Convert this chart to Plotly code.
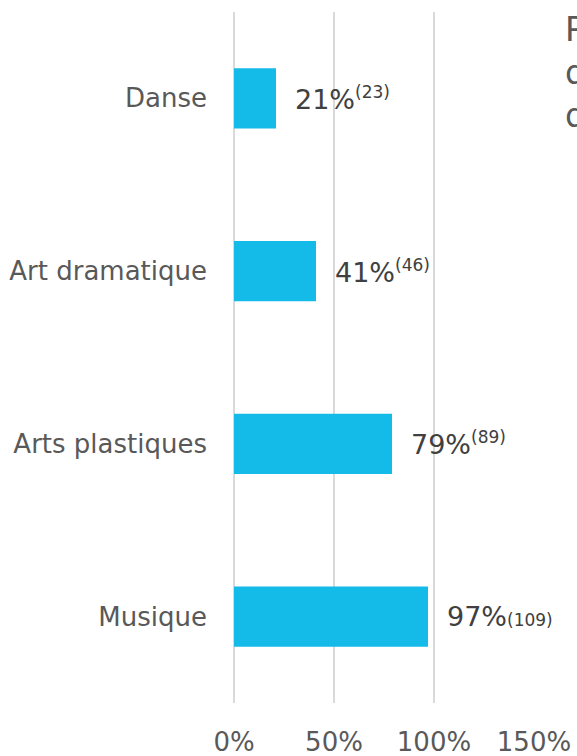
import plotly.graph_objects as go

categories = ["Danse", "Art dramatique", "Arts plastiques", "Musique"]
percent = [21, 41, 79, 97]
counts = [23, 46, 89, 109]
tick_vals = [0, 50, 100, 150]
tick_text = ["0%", "50%", "100%", "150%"]
title_text = "Proportion<br>des écoles<br>dispensant"

FONT = "DejaVu Sans"
BAR = "#14BAE8"
GRID = "#D9D9D9"
TXT = "#595959"

W, H = 577, 756
L, T, PW, PH = 234, 12, 300, 691

fig = go.Figure(go.Bar(
    x=percent, y=categories, orientation="h",
    marker=dict(color=BAR, line=dict(width=0)),
    width=0.35, hoverinfo="skip",
))

for i, (c, v, n) in enumerate(zip(categories, percent, counts)):
    if i < len(categories) - 1:
        txt = f"{v}%<sup><span style='font-size:17px'>({n})</span></sup>"
    else:
        txt = f"{v}%<span style='font-size:17px'>({n})</span>"
    fig.add_annotation(x=v, y=c, xref="x", yref="y", text=txt, showarrow=False,
                       xanchor="left", yanchor="middle", xshift=17,
                       font=dict(family=FONT, size=27, color="#404040"))

fig.add_annotation(x=(563 - L) / PW, y=1.0, xref="paper", yref="paper",
                   text=title_text, showarrow=False, xanchor="left", yanchor="top",
                   align="left", yshift=4,
                   font=dict(family=FONT, size=33, color=TXT))

fig.update_layout(
    template="none",
    width=W, height=H,
    margin=dict(l=L, r=W - L - PW, t=T, b=H - T - PH, autoexpand=False),
    paper_bgcolor="white", plot_bgcolor="white",
    showlegend=False,
    font=dict(family=FONT, size=26, color=TXT),
    xaxis=dict(range=[0, 150], tickvals=tick_vals, ticktext=tick_text, automargin=False,
               showgrid=True, gridcolor=GRID, gridwidth=1.5,
               zeroline=True, zerolinecolor=GRID, zerolinewidth=1.5,
               showline=False, ticks="", ticklabelstandoff=21,
               tickfont=dict(family=FONT, size=26, color=TXT), fixedrange=True),
    yaxis=dict(categoryorder="array", categoryarray=categories, automargin=False,
               autorange=False, range=[3.5, -0.5], showgrid=False, zeroline=False,
               showline=False, ticks="", ticklabelstandoff=26,
               tickfont=dict(family=FONT, size=26, color=TXT), fixedrange=True),
)

fig.write_html("out.html", config={"displayModeBar": False},
               post_script="document.body.style.margin='0';document.body.style.overflow='hidden';")
